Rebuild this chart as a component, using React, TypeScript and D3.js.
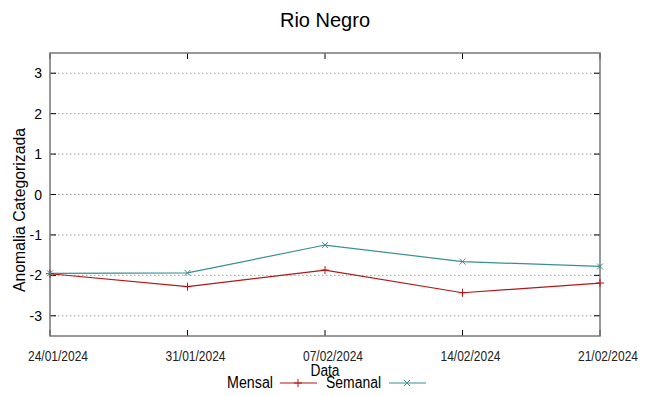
import React from 'react';
import { scaleLinear, scalePoint, line } from 'd3';

const dates = ['24/01/2024', '31/01/2024', '07/02/2024', '14/02/2024', '21/02/2024'];
const mensal = [-1.96, -2.28, -1.87, -2.43, -2.19];
const semanal = [-1.95, -1.94, -1.25, -1.66, -1.78];
const yTicks = [3, 2, 1, 0, -1, -2, -3];

const W = 649;
const H = 396;
const left = 50, right = 600, top = 53, bottom = 336;
const RED = '#b01818';
const TEAL = '#3a8f8f';
const SANS = '"Liberation Sans", Arial, sans-serif';

export default function App() {
    const x = scalePoint<string>().domain(dates).range([left, right]);
    const y = scaleLinear().domain([-3.5, 3.5]).range([bottom, top]);

    const mkLine = line<number>()
        .x((_, i) => x(dates[i]) as number)
        .y(d => y(d));

    const plus = (cx: number, cy: number, c: string, k: string) => (
        <path key={k} d={`M${cx - 4},${cy}H${cx + 4}M${cx},${cy - 4}V${cy + 4}`} stroke={c} strokeWidth={1} fill="none" />
    );
    const cross = (cx: number, cy: number, c: string, k: string) => (
        <path key={k} d={`M${cx - 3},${cy - 3}L${cx + 3},${cy + 3}M${cx - 3},${cy + 3}L${cx + 3},${cy - 3}`} stroke={c} strokeWidth={1} fill="none" />
    );

    return (
        <svg width={W} height={H} style={{ position: 'absolute', left: 0, top: 0, background: '#fff' }}>
            <text x={325} y={27} textAnchor="middle" fontFamily={SANS} fontSize={20} fill="#000">Rio Negro</text>

            {/* grid + y ticks */}
            {yTicks.map(t => (
                <g key={t}>
                    <line x1={left} x2={right} y1={y(t)} y2={y(t)} stroke="#a0a0a0" strokeWidth={1} strokeDasharray="1.5,2.5" />
                    <line x1={left} x2={left + 6} y1={y(t)} y2={y(t)} stroke="#000" />
                    <line x1={right - 6} x2={right} y1={y(t)} y2={y(t)} stroke="#000" />
                    <text x={42} y={y(t) + 5} textAnchor="end" fontFamily={SANS} fontSize={14} fill="#000">{t}</text>
                </g>
            ))}

            {/* x ticks */}
            {dates.map(d => (
                <g key={d}>
                    <line x1={x(d)} x2={x(d)} y1={bottom} y2={bottom - 6} stroke="#000" />
                    <line x1={x(d)} x2={x(d)} y1={top} y2={top + 6} stroke="#000" />
                    <text x={(x(d) as number) + 8} y={361} textAnchor="middle" fontFamily={SANS} fontSize={14}
                        textLength={60} lengthAdjust="spacingAndGlyphs" fill="#222">{d}</text>
                </g>
            ))}

            <rect x={left} y={top} width={right - left} height={bottom - top} fill="none" stroke="#777" strokeWidth={1.5} />

            <path d={mkLine(mensal) as string} fill="none" stroke={RED} strokeWidth={1.2} />
            <path d={mkLine(semanal) as string} fill="none" stroke={TEAL} strokeWidth={1.2} />
            {mensal.map((v, i) => plus(x(dates[i]) as number, y(v), RED, 'm' + i))}
            {semanal.map((v, i) => cross(x(dates[i]) as number, y(v), TEAL, 's' + i))}

            <text transform={`translate(25,210) rotate(-90)`} textAnchor="middle" fontFamily={SANS} fontSize={16}
                textLength={164} lengthAdjust="spacingAndGlyphs" fill="#000">Anomalia Categorizada</text>
            <text x={325} y={376} textAnchor="middle" fontFamily={SANS} fontSize={16}
                textLength={29} lengthAdjust="spacingAndGlyphs" fill="#000">Data</text>

            {/* legend */}
            <text x={227} y={388} fontFamily={SANS} fontSize={16} textLength={46} lengthAdjust="spacingAndGlyphs" fill="#000">Mensal</text>
            <line x1={280} x2={317} y1={383} y2={383} stroke={RED} strokeWidth={1.2} />
            {plus(298, 383, RED, 'lm')}
            <text x={326} y={388} fontFamily={SANS} fontSize={16} textLength={55} lengthAdjust="spacingAndGlyphs" fill="#000">Semanal</text>
            <line x1={389} x2={426} y1={383} y2={383} stroke={TEAL} strokeWidth={1.2} />
            {cross(407, 383, TEAL, 'ls')}
        </svg>
    );
}
